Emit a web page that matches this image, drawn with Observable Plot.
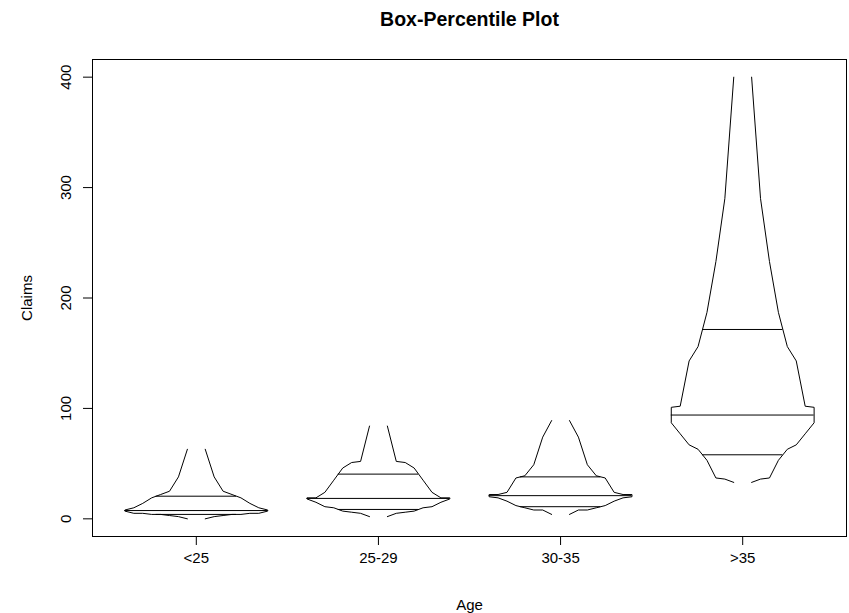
<!DOCTYPE html>
<html>
<head>
<meta charset="utf-8">
<script src="https://cdn.jsdelivr.net/npm/d3@7"></script>
<script src="https://cdn.jsdelivr.net/npm/@observablehq/plot@0.6"></script>
<style>
  body { margin: 0; background: #fff; }
  #chart svg { display: block; }
</style>
</head>
<body>
<div id="chart"></div>
<script>
// Age groups (x categories) and their centre positions on the box-percentile axis
const ageGroups = ["<25", "25-29", "30-35", ">35"];
const groupCenters = [0, 1.2, 2.4, 3.6];

// Claims per age group (16 district x car-group cells each)
const claimsUnder25 = [38, 63, 19, 4, 22, 25, 14, 4, 5, 10, 8, 3, 2, 7, 5, 0];
const claims25to29  = [35, 84, 52, 18, 19, 51, 46, 15, 11, 24, 19, 2, 5, 10, 7, 6];
const claims30to35  = [20, 89, 74, 19, 22, 49, 39, 12, 10, 37, 24, 8, 4, 22, 16, 8];
const claimsOver35  = [156, 400, 233, 77, 87, 290, 143, 53, 67, 187, 101, 37, 36, 102, 63, 33];

const yTicks = [0, 100, 200, 300, 400];

const groupValues = [claimsUnder25, claims25to29, claims30to35, claimsOver35];

// approx() with ties = mean, as in R
function approx(xs, ys, xout) {
  const m = new Map();
  xs.forEach((x, i) => { if (!m.has(x)) m.set(x, []); m.get(x).push(ys[i]); });
  const ux = Array.from(m.keys()).sort((a, b) => a - b);
  const uy = ux.map(x => d3.mean(m.get(x)));
  for (let i = 0; i < ux.length - 1; i++) {
    if (xout >= ux[i] && xout <= ux[i + 1]) {
      if (ux[i + 1] === ux[i]) return uy[i];
      const t = (xout - ux[i]) / (ux[i + 1] - ux[i]);
      return uy[i] + t * (uy[i + 1] - uy[i]);
    }
  }
  return NaN;
}

// Box-percentile transform (Hmisc bpx)
const outline = [];
const quartiles = [];
groupValues.forEach((vals, g) => {
  const quan = vals.slice().sort((a, b) => a - b);
  const n = quan.length;
  const delta = 1 / (n + 1);
  const prob = quan.map((_, i) => delta * (i + 1));
  const med = d3.median(vals);
  const q1 = d3.median(vals.filter(v => v < med));
  const q3 = d3.median(vals.filter(v => v > med));
  const firstHalf = prob.filter((p, i) => quan[i] <= med);
  const secondHalf = prob.filter((p, i) => quan[i] > med).map(p => 1 - p);
  const plotx = firstHalf.concat(secondHalf);
  const c = groupCenters[g];
  for (const side of [-1, 1]) {
    quan.forEach((q, i) => outline.push({key: g + "_" + side, x: c + side * plotx[i], y: q}));
  }
  const w1 = approx(quan, plotx, q1);
  const w3 = approx(quan, plotx, q3);
  const wm = d3.max(firstHalf);
  quartiles.push({x1: c - w1, x2: c + w1, y: q1});
  quartiles.push({x1: c - wm, x2: c + wm, y: med});
  quartiles.push({x1: c - w3, x2: c + w3, y: q3});
});

const font = "'Liberation Sans', Arial, sans-serif";

const chart = Plot.plot({
  width: 849,
  height: 613,
  marginLeft: 92,
  marginRight: 3,
  marginTop: 59,
  marginBottom: 77,
  style: {fontFamily: font, fontSize: "15px", color: "black", background: "white"},
  x: {domain: [-0.684, 4.284], axis: null},
  y: {domain: [-16, 416], axis: null},
  marks: [
    Plot.frame({stroke: "black"}),
    Plot.line(outline, {x: "x", y: "y", z: "key", stroke: "black", strokeWidth: 1}),
    Plot.ruleY(quartiles, {y: "y", x1: "x1", x2: "x2", stroke: "black", strokeWidth: 1}),
    Plot.axisY({ticks: yTicks, tickSize: 9, tickRotate: -90, tickPadding: 13, label: null, fontSize: 15}),
    Plot.axisX({ticks: groupCenters, tickSize: 9, tickPadding: 7, label: null, fontSize: 15,
      tickFormat: d => ageGroups[groupCenters.indexOf(d)]}),
    Plot.text(["Claims"], {frameAnchor: "left", dx: -65, rotate: -90, textAnchor: "middle", lineAnchor: "middle", fontSize: 15}),
    Plot.text(["Age"], {frameAnchor: "bottom", dy: 69, textAnchor: "middle", lineAnchor: "middle", fontSize: 15}),
    Plot.text(["Box-Percentile Plot"], {frameAnchor: "top", dy: -40, lineAnchor: "middle", fontSize: 19.5, fontWeight: "bold"})
  ]
});
document.getElementById("chart").appendChild(chart);
</script>
</body>
</html>
